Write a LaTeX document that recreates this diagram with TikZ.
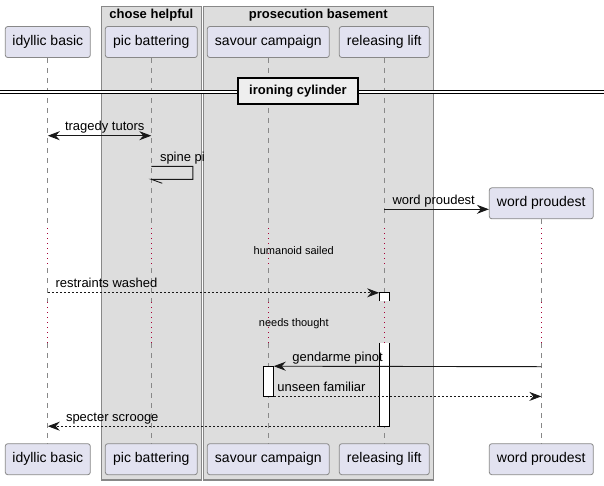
\documentclass[tikz,border=0pt]{standalone}
\usepackage{fontspec}
\setmainfont{Liberation Sans}
\usepackage{tikz}
\usetikzlibrary{arrows.meta, calc, positioning}

\definecolor{partfill}{HTML}{E2E2F0}
\definecolor{partline}{HTML}{888888}
\definecolor{grpfill}{HTML}{DDDDDD}
\definecolor{grpline}{HTML}{888888}
\definecolor{lifegray}{HTML}{888888}
\definecolor{delaydot}{HTML}{A80036}
\definecolor{arrowline}{HTML}{181818}
\definecolor{divfill}{HTML}{EEEEEE}

\begin{document}
\begin{tikzpicture}[x=1pt,y=-1pt]
      \tikzset{actor box/.style={draw=partline, fill=partfill, rounded corners=2.5pt,
          line width=0.8pt, minimum height=31pt, inner sep=0pt,
          font=\fontsize{14}{16}\selectfont},
        group box/.style={draw=grpline, fill=grpfill, line width=1.2pt},
        group title/.style={font=\bfseries\fontsize{13}{15}\selectfont, inner sep=0pt, anchor=base},
        life line/.style={draw=lifegray, line width=0.8pt, dash pattern=on 5pt off 5pt},
        delay line/.style={draw=delaydot, line width=1pt, dash pattern=on 1pt off 4pt},
        msg line/.style={draw=arrowline, line width=0.9pt,
          -{Stealth[length=12pt,width=9pt,inset=4pt]}},
        both line/.style={draw=arrowline, line width=0.9pt,
          {Stealth[length=12pt,width=9pt,inset=4pt]}-{Stealth[length=12pt,width=9pt,inset=4pt]}},
        reply line/.style={msg line, dash pattern=on 2pt off 2pt},
        msg text/.style={font=\fontsize{13}{15}\selectfont, inner sep=0pt, anchor=base west},
        delay text/.style={font=\fontsize{11}{13}\selectfont, inner sep=0pt, anchor=base},
        act bar/.style={fill=white, minimum width=10pt, inner sep=0pt}
      }
      \useasboundingbox (0,0) rectangle (604,485);

      % boxes round the grouped participants
      \draw [group box] (101.3,6.3) rectangle (201.3,480);
      \draw [group box] (203.3,6.3) rectangle (433.3,480);
      \node [group title] (G1) at (151.3,18) {chose helpful};
      \node [group title] (G2) at (318.3,18) {prosecution basement};

      % rows
      \coordinate (D1) at (0,228);
      \coordinate (D2) at (0,268);
      \coordinate (D3) at (0,302);
      \coordinate (D4) at (0,343);
      \coordinate (M1) at (0,135.7);
      \coordinate (S1) at (0,166.3);
      \coordinate (S2) at (0,179.3);
      \coordinate (M3) at (0,209.3);
      \coordinate (M5) at (0,366.7);

      \node [actor box, minimum width=85pt] (IB) at (47.8,42) {idyllic basic};
      \node [actor box, minimum width=92pt] (PB) at (151.3,42) {pic battering};
      \node [actor box, minimum width=122pt] (SC) at (268.3,42) {savour campaign};
      \node [actor box, minimum width=90pt] (RL) at (384.3,42) {releasing lift};
      \node [actor box, minimum width=104pt] (WP) at (541.3,203.3) {word proudest};

      \node [actor box, minimum width=85pt] (IB1) at (47.8,459.2) {idyllic basic};
      \node [actor box, minimum width=92pt] (PB1) at (151.3,459.2) {pic battering};
      \node [actor box, minimum width=122pt] (SC1) at (268.3,459.2) {savour campaign};
      \node [actor box, minimum width=90pt] (RL1) at (384.3,459.2) {releasing lift};
      \node [actor box, minimum width=104pt] (WP1) at (541.3,459.2) {word proudest};

      \foreach \p in {IB,PB,SC,RL,WP}{
        \draw [life line] (\p) -- (\p |- D1);
        \draw [delay line] (\p |- D1) -- (\p |- D2);
        \draw [life line] (\p |- D2) -- (\p |- D3);
        \draw [delay line] (\p |- D3) -- (\p |- D4);
        \draw [life line] (\p |- D4) -- (\p 1);
      }
      \node [delay text] (T1) at (293.8,254.3) {humanoid sailed};
      \node [delay text] (T2) at (293.8,326.7) {needs thought};

      % divider
      \coordinate (V1) at (0,92.1);
      \coordinate (V2) at (604,92.1);
      \draw [double=white, double distance=2.2pt, line width=0.9pt] (V1) -- (V2);
      \node [draw=black, fill=divfill, line width=1.5pt, minimum width=120pt, minimum height=26pt,
        inner sep=0pt, font=\bfseries\fontsize{13}{15}\selectfont] (DV) at (298,91) {ironing cylinder};

      % activations
      \node [act bar, minimum height=8pt] (A1) at (384.3,297) {};
      \draw [line width=0.9pt] (A1.south west) |- (A1.north east) -- (A1.south east);
      \node [act bar, minimum height=83pt] (A2) at (384.3,384.5) {};
      \draw [line width=0.9pt] (A2.north west) |- (A2.south east) -- (A2.north east);
      \node [act bar, draw, line width=0.9pt, minimum height=29.3pt] (A3) at (268.3,381.3) {};

      % messages
      \draw [both line] (IB |- M1) -- (PB |- M1);
      \node [msg text] (L1) at ($(IB |- M1)+(17,-5)$) {tragedy tutors};

      \draw [draw=arrowline, line width=0.9pt] (PB |- S1) -- ++(41.6,0) |- (PB |- S2) -- ++(11,4);
      \node [msg text] (L2) at ($(PB |- S1)+(8.5,-5)$) {spine pi};

      \draw [msg line] (RL |- M3) -- (WP.west |- M3);
      \node [msg text] (L3) at ($(RL |- M3)+(8,-5)$) {word proudest};

      \draw [reply line] (IB |- A1.north) -- (A1.north west);
      \node [msg text] (L4) at ($(IB |- A1.north)+(7.5,-5)$) {restraints washed};

      \draw [msg line] (WP |- M5) -- (A3.north east);
      \node [msg text] (L5) at ($(A3.north east)+(18.4,-5)$) {gendarme pinot};

      \draw [reply line] (A3.south east) -- (WP |- A3.south);
      \node [msg text] (L6) at ($(A3.south east)+(3.4,-5)$) {unseen familiar};

      \draw [reply line] (A2.south west) -- (IB |- A2.south);
      \node [msg text] (L7) at ($(IB |- A2.south)+(18,-5)$) {specter scrooge};

\end{tikzpicture}
\end{document}
